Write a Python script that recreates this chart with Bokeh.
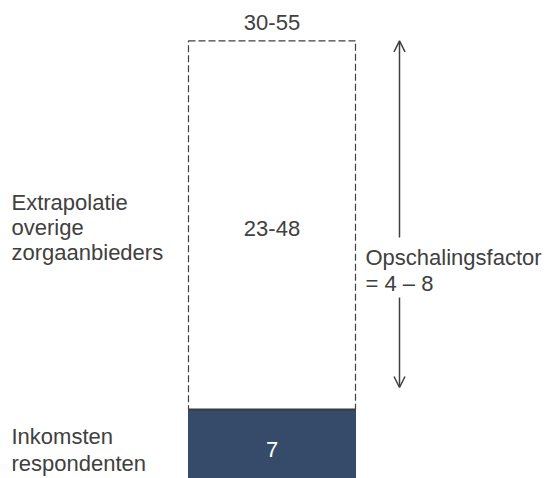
from bokeh.plotting import figure
from bokeh.models import Range1d, Label, Arrow, OpenHead
from bokeh.embed import file_html
from bokeh.resources import INLINE

# ---- data ----
segments = ["Inkomsten respondenten", "Extrapolatie overige zorgaanbieders"]
segment_heights = [7, 37.4]          # drawn heights (schematic, same scale)
value_labels = ["7", "23-48"]
total_label = "30-55"
left_labels = [["Inkomsten", "respondenten"], ["Extrapolatie", "overige", "zorgaanbieders"]]
factor_label = ["Opschalingsfactor", "= 4 – 8"]

W, H = 553, 478
S = 9.857  # px per unit

FONT = "Liberation Sans"
TXT = "#404040"
FS = "22px"

p = figure(width=W, height=H, output_backend="svg", toolbar_location=None,
           x_range=Range1d(0, W), y_range=Range1d(0, H / S),
           min_border=0, outline_line_color=None)
p.axis.visible = False
p.grid.visible = False
p.background_fill_color = "white"

def py(page_y):
    return (H - page_y) / S

bar_left, bar_right = 188, 355
bar_cx = (bar_left + bar_right) / 2

bottoms = [0, segment_heights[0]]
tops = [segment_heights[0], segment_heights[0] + segment_heights[1]]

# dashed extrapolation box
p.quad(left=[bar_left], right=[bar_right], bottom=[bottoms[1]], top=[tops[1]],
       fill_color=None, line_color=TXT, line_dash="7 3", line_width=1.2)
# solid respondents bar
p.quad(left=[bar_left], right=[bar_right], bottom=[bottoms[0] - 5], top=[tops[0]],
       fill_color="#364A6A", line_color="#364A6A", line_width=1)
p.segment(x0=[bar_left], x1=[bar_right], y0=[tops[0]], y1=[tops[0]],
          line_color="#3a3a3a", line_width=2)

# value labels
p.add_layout(Label(x=bar_cx, y=py(449), text=value_labels[0], text_color="white",
                   text_font=FONT, text_font_size=FS, text_align="center",
                   text_baseline="middle"))
p.add_layout(Label(x=bar_cx, y=py(228), text=value_labels[1], text_color=TXT,
                   text_font=FONT, text_font_size=FS, text_align="center",
                   text_baseline="middle"))
p.add_layout(Label(x=bar_cx, y=py(22), text=total_label, text_color=TXT,
                   text_font=FONT, text_font_size=FS, text_align="center",
                   text_baseline="middle"))

# left labels
for i, ys in enumerate([[436, 463], [202, 227, 252]]):
    for line, yy in zip(left_labels[i], ys):
        p.add_layout(Label(x=11, y=py(yy), text=line, text_color=TXT, text_font=FONT,
                           text_font_size=FS, text_align="left", text_baseline="middle"))

# factor text
for line, yy in zip(factor_label, [257, 283]):
    p.add_layout(Label(x=365, y=py(yy), text=line, text_color=TXT, text_font=FONT,
                       text_font_size=FS, text_align="left", text_baseline="middle"))

# arrows
ax = 399
p.add_layout(Arrow(x_start=ax, y_start=py(237), x_end=ax, y_end=tops[1],
                   line_color=TXT, line_width=1.5,
                   end=OpenHead(size=11, line_color=TXT, line_width=1.5)))
p.add_layout(Arrow(x_start=ax, y_start=py(297), x_end=ax, y_end=py(387),
                   line_color=TXT, line_width=1.5,
                   end=OpenHead(size=11, line_color=TXT, line_width=1.5)))

open("out.html", "w").write(file_html(p, INLINE))
